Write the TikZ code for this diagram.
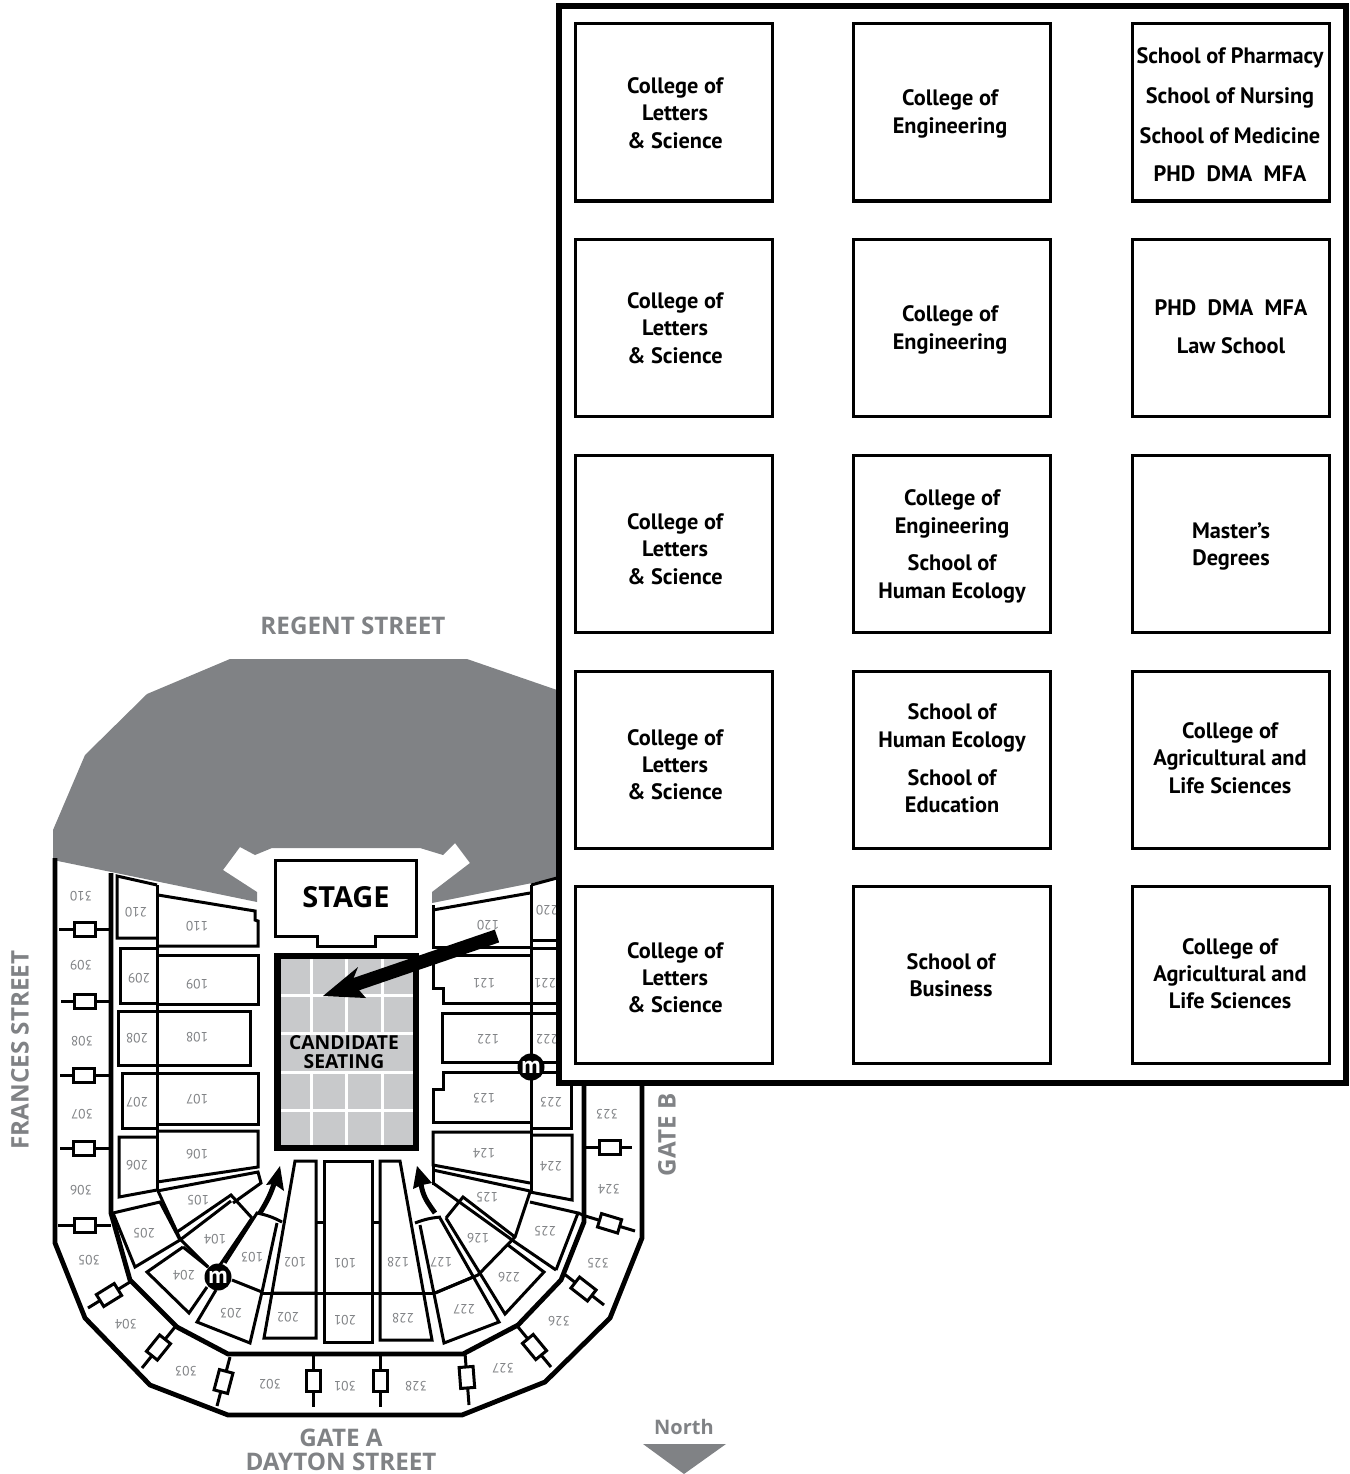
\documentclass[tikz,border=0pt]{standalone}
\usepackage{fontspec}
\setmainfont{PT Sans}
\newfontfamily\streetfont{Open Sans}
\definecolor{darkgrey}{HTML}{808285}
\definecolor{seatgrey}{HTML}{C8C9CB}
\tikzset{
  wall/.style={line width=4.8pt,line join=miter},
  sect/.style={line width=3pt,line join=miter},
  seat/.style={font=\fontsize{13.5}{13.5}\selectfont,text=darkgrey,rotate=180,inner sep=0pt},
  gatebox/.style={draw=black,fill=white,line width=3pt,minimum width=21pt,minimum height=14pt,inner sep=0pt,sloped},
  gate/.style={line width=3pt},
  street/.style={font=\streetfont\fontsize{24.2}{24.2}\selectfont\bfseries,text=darkgrey,inner sep=0pt},
  panelbox/.style={draw=black,line width=3pt,minimum width=197pt,minimum height=177pt,inner sep=0pt,fill=white},
  ptext/.style={font=\fontsize{22.3}{27.3}\selectfont\bfseries,align=center,inner sep=0pt},
  metro/.style={circle,fill=black,minimum size=27pt,inner sep=0pt,text=white,font=\fontsize{24}{24}\selectfont\bfseries},
}
\newcommand{\seatno}[3]{\node[seat] (s#1) at (#2,#3) {#1};}
\newcommand{\ptxt}[4]{\node[ptext] (#1) at (#2,#3) {#4};}
\begin{document}
\begin{tikzpicture}[x=1pt,y=-1pt]
\useasboundingbox (0,0) rectangle (1349,1474);
% grey roof
\fill[darkgrey] (272,848) -- (420,848) -- (443,855) -- (455,843) -- (470,863) -- (432,892) -- (432,903) -- (557,878) -- (557,690) -- (467,659) -- (230,659) -- (147,694) -- (85,755) -- (53,830) -- (53,860) -- (257,902) -- (257,892) -- (223,870) -- (240,847) -- (255,855) -- cycle;
% walls
\draw[wall] (55,858) -- (55,1243) -- (85,1318) -- (150,1385) -- (228,1415) -- (462,1415) -- (545,1382) -- (610,1318) -- (642,1238) -- (642,1075);
\draw[wall] (111,873) -- (111,1213) -- (130,1280) -- (177,1327) -- (228,1354) -- (463,1354) -- (518,1325) -- (561,1280) -- (584,1222) -- (584,1075);
% gates
\draw[gate] (59,929) -- node[gatebox]{} (111,929);
\draw[gate] (61,1001) -- node[gatebox,pos=.47]{} (111,1001);
\draw[gate] (60,1075) -- node[gatebox,pos=.47]{} (111,1075);
\draw[gate] (60,1148) -- node[gatebox,pos=.47]{} (111,1148);
\draw[gate] (58,1225) -- node[gatebox,pos=.5]{} (111,1225);
\draw[gate] (130,1282) -- node[gatebox]{} (88,1308);
\draw[gate] (175,1327) -- node[gatebox]{} (142,1368);
\draw[gate] (230,1357) -- node[gatebox]{} (217,1406);
\draw[gate] (313,1355) -- node[gatebox]{} (313,1407);
\draw[gate] (380,1355) -- node[gatebox]{} (380,1407);
\draw[gate] (465,1353) -- node[gatebox,pos=.47]{} (469,1405);
\draw[gate] (518,1327) -- node[gatebox]{} (551,1367);
\draw[gate] (563,1273) -- node[gatebox]{} (604,1305);
\draw[gate] (582,1215) -- node[gatebox,pos=.52]{} (635,1231);
\draw[gate] (583,1147) -- node[gatebox,pos=.55]{} (632,1147);
% left 100/200 sections
\draw[sect] (157,885) -- (157,1191);
\draw[sect] (157,885) -- (117,876) -- (117,938) -- (157,938);
\draw[sect] (158,895) -- (255,911) -- (255,920) -- (258,921) -- (258,946) -- (158,946);
\draw[sect] (157,948) -- (120,948) -- (120,1003) -- (157,1003);
\draw[sect] (157,955) -- (258,955) -- (258,1004) -- (157,1004);
\draw[sect] (157,1011) -- (118,1011) -- (118,1065) -- (157,1065);
\draw[sect] (157,1011) -- (250,1011) -- (250,1065) -- (157,1065);
\draw[sect] (157,1073) -- (122,1073) -- (122,1128) -- (157,1128);
\draw[sect] (157,1073) -- (258,1073) -- (258,1124) -- (157,1124);
\draw[sect] (157,1137) -- (119,1137) -- (119,1197) -- (157,1190);
\draw[sect] (157,1131) -- (258,1131) -- (258,1167) -- (157,1182);
\draw[sect] (157,1191) -- (258,1172) -- (261,1183) -- (233,1203);
\draw[sect] (158,1191) -- (177,1232) -- (231,1195) -- (252,1218);
\draw[sect] (113,1213) -- (160,1202) -- (180,1240) -- (135,1267) -- cycle;
\draw[sect] (177,1232) -- (180,1239) -- (208,1267);
\draw[sect] (180,1240) -- (231,1201);
\draw[sect] (252,1218) -- (220,1265);
\draw[sect] (183,1247) -- (147,1272) -- (189,1313) -- (207,1287);
\draw[sect] (183,1247) -- (208,1267);
\draw[sect] (225,1263) -- (257,1213) to[bend left=8] (282,1222);
\draw[sect] (277,1223) -- (262,1292) -- (232,1280);
\draw[sect] (216,1290) -- (197,1322) -- (250,1343) -- (262,1292);
% centre
\draw[sect] (295,1161) -- (316,1161) -- (316,1293) -- (272,1293) -- cycle;
\draw[sect] (272,1293) -- (264,1338) -- (316,1338) -- (316,1293);
\draw[sect] (324,1342) -- (324,1161) -- (372,1161) -- (372,1342) -- cycle;
\draw[sect] (262,1293) -- (435,1293);
\draw[sect] (316,1222) -- (324,1222);
\draw[sect] (372,1222) -- (380,1222);
\draw[sect] (380,1293) -- (380,1161) -- (400,1161) -- (432,1340) -- (380,1340) -- cycle;
% right lower sections
\draw[sect] (415,1223) to[bend left=8] (441,1217);
\draw[sect] (420,1225) -- (444,1343) -- (499,1322) -- (440,1218);
\draw[sect] (435,1293) -- (473,1277);
\draw[sect] (446,1218) -- (463,1197) -- (515,1237);
\draw[sect] (446,1218) -- (505,1314) -- (544,1272) -- (508,1245);
\draw[sect] (433,1183) -- (515,1242) -- (556,1270);
\draw[sect] (435,1293) -- (478,1275) -- (515,1237) -- (530,1192);
\draw[sect] (433,1170) -- (530,1191);
\draw[sect] (530,1202) -- (578,1213) -- (556,1270);
\draw[gate] (578,1213) -- (583,1215);
\draw[sect] (433,1165) -- (433,1185);
% right upper sections
\draw[sect] (531,885) -- (531,1192);
\draw[sect] (531,885) -- (557,878);
\draw[sect] (433,910) -- (530,893);
\draw[sect] (433,905) -- (433,947) -- (530,947);
\draw[sect] (531,940) -- (557,940);
\draw[sect] (531,948) -- (557,948);
\draw[sect] (530,955) -- (435,955) -- (433,955) -- (433,988) -- (443,988) -- (443,1003) -- (530,1003);
\draw[sect] (531,1003) -- (557,1003);
\draw[sect] (531,1013) -- (557,1013);
\draw[sect] (530,1013) -- (442,1013) -- (442,1062) -- (557,1062);
\draw[sect] (557,1072) -- (443,1072) -- (443,1089) -- (433,1089) -- (433,1122) -- (530,1122);
\draw[sect] (530,1128) -- (571,1128) -- (571,1075);
\draw[sect] (530,1135) -- (572,1135) -- (572,1200) -- (530,1192);
\draw[sect] (530,1132) -- (433,1132) -- (433,1165) -- (530,1183);
% stage
\draw[sect,fill=white] (275,860) -- (416,860) -- (416,936) -- (375,936) -- (375,946) -- (317,946) -- (317,936) -- (275,936) -- cycle;
\node[font=\streetfont\fontsize{29}{29}\selectfont\bfseries,inner sep=0pt] (stage) at (346,897) {STAGE};
% seating
\fill[seatgrey] (277.5,956) rectangle (416,1148);
\draw[white,line width=3pt] (311,956) -- (311,1033) (346,956) -- (346,1033) (382,956) -- (382,1033);
\draw[white,line width=3pt] (311,1072) -- (311,1148) (346,1072) -- (346,1148) (382,1072) -- (382,1148);
\draw[white,line width=3pt] (276,995) -- (416,995) (276,1033) -- (416,1033) (276,1072) -- (416,1072) (276,1110) -- (416,1110);
\draw[line width=6.5pt] (277.5,956) rectangle (416,1148);
\node[font=\streetfont\fontsize{19.3}{18.5}\selectfont\bfseries,align=center,inner sep=0pt] (cand) at (344,1052) {CANDIDATE\\SEATING};
% seat numbers
\seatno{310}{81}{896}\seatno{210}{136}{912}\seatno{110}{197}{926}
\seatno{309}{81}{965}\seatno{209}{139}{978}\seatno{109}{197}{984}
\seatno{308}{82}{1041}\seatno{208}{137}{1038}\seatno{108}{197}{1037}
\seatno{307}{82}{1114}\seatno{207}{137}{1102}\seatno{107}{197}{1099}
\seatno{306}{81}{1190}\seatno{206}{137}{1165}\seatno{106}{197}{1154}
\seatno{105}{198}{1200}\seatno{205}{144}{1233}\seatno{104}{215}{1239}
\seatno{103}{252}{1257}\seatno{204}{184}{1275}\seatno{102}{295}{1262}
\seatno{101}{345}{1263}\seatno{305}{89}{1260}\seatno{203}{231}{1313}
\seatno{202}{288}{1317}\seatno{201}{345}{1320}\seatno{304}{126}{1324}
\seatno{303}{186}{1371}\seatno{302}{270}{1384}\seatno{301}{345}{1386}
\seatno{328}{416}{1386}\seatno{327}{503}{1368}\seatno{326}{559}{1321}
\seatno{325}{598}{1263}\seatno{227}{464}{1309}\seatno{228}{403}{1318}
\seatno{128}{398}{1262}\seatno{127}{441}{1262}\seatno{226}{509}{1277}
\seatno{126}{478}{1238}\seatno{125}{487}{1197}\seatno{225}{545}{1231}
\seatno{324}{609}{1189}\seatno{224}{551}{1166}\seatno{124}{484}{1153}
\seatno{323}{607}{1114}\seatno{223}{551}{1102}\seatno{123}{484}{1098}
\seatno{122}{488}{1039}\seatno{222}{547}{1039}\seatno{121}{484}{983}
\seatno{221}{545}{983}\seatno{120}{488}{925}\seatno{220}{547}{910}
% arrows
\draw[line width=13.5pt] (497,936) -- (345,988);
\fill (323,996) -- (358,967) -- (352,982) -- (366,998) -- cycle;
\draw[line width=5pt] (260,1213) .. controls (266,1203) and (270,1196) .. (274,1184);
\fill (280,1166) -- (284,1191) -- (274,1184) -- (266,1185) -- cycle;
\draw[line width=5pt] (435,1213) .. controls (428,1203) and (423,1197) .. (421,1184);
\fill (417,1166) -- (432,1183) -- (422,1185) -- (413,1189) -- cycle;
% lifts
\node[metro] (m1) at (218,1277) {m};
\node[metro] (m2) at (531,1067) {m};
% streets
\node[street] (regent) at (353,626) {REGENT STREET};
\node[street,rotate=90] (frances) at (20,1050) {FRANCES STREET};
\node[street,rotate=90] (gateb) at (667,1135) {GATE B};
\node[street] (gatea) at (341,1438) {GATE A};
\node[street] (dayton) at (341,1462) {DAYTON STREET};
\node[street,font=\streetfont\fontsize{20}{20}\selectfont\bfseries] (north) at (684,1427) {North};
\fill[darkgrey] (643,1444) -- (726,1444) -- (684,1474) -- cycle;
% panel
\draw[fill=white,line width=6pt] (559,6) rectangle (1346,1082.5);
\foreach \c/\x in {a/674,b/952,c/1231}{
  \foreach \r/\y in {1/112.5,2/328,3/543.5,4/759.5,5/975}{
    \node[panelbox] (box\c\r) at (\x,\y) {};
  }
}
\ptxt{a1}{675}{113}{College of\\Letters\\\& Science}
\ptxt{a2}{675}{328}{College of\\Letters\\\& Science}
\ptxt{a3}{675}{549}{College of\\Letters\\\& Science}
\ptxt{a4}{675}{764.5}{College of\\Letters\\\& Science}
\ptxt{a5}{675}{977.5}{College of\\Letters\\\& Science}
\ptxt{b1}{950}{114}{College of\\Engineering}
\ptxt{b2}{950}{330}{College of\\Engineering}
\ptxt{b3a}{952}{514}{College of\\Engineering}
\ptxt{b3b}{952}{579}{School of\\Human Ecology}
\ptxt{b4a}{952}{728}{School of\\Human Ecology}
\ptxt{b4b}{952}{791}{School of\\Education}
\ptxt{b5}{951}{975}{School of\\Business}
\ptxt{c1a}{1230}{58}{School of Pharmacy}
\ptxt{c1b}{1230}{98}{School of Nursing}
\ptxt{c1c}{1230}{136}{School of Medicine}
\ptxt{c1d}{1230}{174}{PHD\ \ DMA\ \ MFA}
\ptxt{c2a}{1231}{308}{PHD\ \ DMA\ \ MFA}
\ptxt{c2b}{1231}{346}{Law School}
\ptxt{c3}{1231}{546.5}{Master’s\\Degrees}
\ptxt{c4}{1230}{758}{College of\\Agricultural and\\Life Sciences}
\ptxt{c5}{1230}{973.5}{College of\\Agricultural and\\Life Sciences}
\end{tikzpicture}
\end{document}
